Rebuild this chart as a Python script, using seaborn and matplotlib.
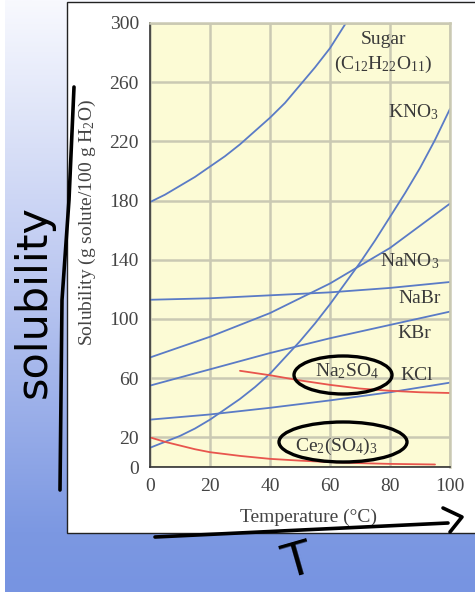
import numpy as np
import pandas as pd
import seaborn as sns
import matplotlib.pyplot as plt
from matplotlib.colors import LinearSegmentedColormap
from matplotlib.patches import Rectangle, Ellipse

# solubility curves (g solute / 100 g H2O)
t_sugar = [0, 5, 10, 15, 20, 25, 30, 35, 40, 45, 50, 55, 60, 65, 70]
sugar = [179, 184, 190, 196, 203, 210, 218, 227, 236, 246, 258, 270, 283, 299, 315]
t_five = [0, 5, 10, 15, 20, 25, 30, 35, 40, 45, 50,
          55, 60, 65, 70, 75, 80, 85, 90, 95, 100]
kno3 = [13, 17, 21, 26, 32, 39, 46, 54, 63, 74, 85,
        97, 110, 124, 138, 153, 169, 185, 202, 221, 242]
t_ten = [0, 10, 20, 30, 40, 50, 60, 70, 80, 90, 100]
nano3 = [74, 81, 88, 96, 104, 114, 124, 136, 148, 163, 178]
t_twenty = [0, 20, 40, 60, 80, 100]
nabr = [113, 114, 116, 118, 121, 125]
kbr = [55, 66, 77, 87, 96, 105]
kcl = [32, 35.5, 40, 45, 50.5, 57]
t_na2so4 = [30, 35, 40, 50, 60, 70, 80, 90, 100]
na2so4 = [65, 63.5, 62, 58.5, 55.5, 53, 51.5, 50.5, 50]
t_ce = [0, 5, 10, 15, 20, 30, 40, 50, 60, 70, 80, 95]
ce2so43 = [20, 17, 14.5, 12, 10, 7.5, 5.5, 4.3, 3.3, 2.6, 2.1, 1.7]

x_ticks = [0, 20, 40, 60, 80, 100]
y_ticks = [0, 20, 60, 100, 140, 180, 220, 260, 300]

blue = '#5a7bc6'
red = '#e8554d'

series = [
    ('Sugar', t_sugar, sugar, blue),
    ('KNO3', t_five, kno3, blue),
    ('NaNO3', t_ten, nano3, blue),
    ('NaBr', t_twenty, nabr, blue),
    ('KBr', t_twenty, kbr, blue),
    ('KCl', t_twenty, kcl, blue),
    ('Na2SO4', t_na2so4, na2so4, red),
    ('Ce2(SO4)3', t_ce, ce2so43, red),
]
frames = [pd.DataFrame({'T': t, 'S': s, 'solute': name}) for name, t, s, _ in series]
df = pd.concat(frames, ignore_index=True)
palette = {name: c for name, _, _, c in series}

sns.set_style('white')
plt.rcParams['font.family'] = ['Liberation Serif', 'DejaVu Serif']
plt.rcParams['mathtext.default'] = 'regular'

fig = plt.figure(figsize=(4.75, 5.92), dpi=100)
fig.patch.set_facecolor('white')

# background: blue gradient slide + white card
bg = fig.add_axes([0, 0, 1, 1], zorder=-5)
bg.set_xlim(0, 475)
bg.set_ylim(592, 0)
bg.axis('off')
cmap = LinearSegmentedColormap.from_list(
    'slide', [(0, '#f8f9fe'), (0.5, '#b8c5f0'), (0.9, '#7c98e2'), (1, '#7794e1')])
grad = np.linspace(0, 1, 256).reshape(-1, 1)
bg.imshow(grad, extent=[5, 475, 592, 0], aspect='auto', cmap=cmap)
bg.add_patch(Rectangle((67, 2), 430, 531, facecolor='white', edgecolor='#222222', lw=1))

ax = fig.add_axes([150 / 475, 1 - 467 / 592, 300 / 475, 444 / 592], zorder=1)
ax.set_facecolor('#fcfbd5')
sns.lineplot(data=df, x='T', y='S', hue='solute', palette=palette, units='solute',
             estimator=None, sort=False, lw=1.3, legend=False, ax=ax)

ax.set_xlim(0, 100)
ax.set_ylim(0, 300)
ax.set_xticks(x_ticks)
ax.set_yticks(y_ticks)
grid_c = '#cac9b3'
ax.grid(True, color=grid_c, lw=1.8, zorder=0)
ax.set_axisbelow(True)
for side in ['top', 'right']:
    ax.spines[side].set_color(grid_c)
    ax.spines[side].set_linewidth(1.8)
for side in ['left', 'bottom']:
    ax.spines[side].set_color('#333333')
    ax.spines[side].set_linewidth(1.2)
ax.tick_params(axis='x', direction='in', length=4, width=1.2, colors='#333333',
               labelsize=14, pad=8, labelcolor='#444444')
ax.tick_params(axis='y', direction='out', length=4, width=1.2, colors='#333333',
               labelsize=14, pad=4, labelcolor='#444444')

ax.set_xlabel('Temperature (°C)', fontsize=14, color='#444444')
ax.set_ylabel('Solubility (g solute/100 g H$_2$O)', fontsize=14, color='#444444')
ax.xaxis.set_label_coords(0.527, -0.095)
ax.yaxis.set_label_coords(-0.175, 0.55)

lab = dict(fontsize=14, color='#3a3a3a', ha='center', va='center')
ax.text(77.7, 289, 'Sugar', **lab)
ax.text(77.7, 272, '(C$_{12}$H$_{22}$O$_{11}$)', **lab)
ax.text(87.7, 240, 'KNO$_3$', **lab)
ax.text(86.5, 139, 'NaNO$_3$', **lab)
ax.text(90, 114, 'NaBr', **lab)
ax.text(88, 90, 'KBr', **lab)
ax.text(89, 62, 'KCl', **lab)
ax.text(65.5, 65, 'Na$_2$SO$_4$', **lab)
ax.text(62, 14, 'Ce$_2$(SO$_4$)$_3$', **lab)

# handwritten marks on top, in pixel coordinates
ov = fig.add_axes([0, 0, 1, 1], zorder=5)
ov.set_xlim(0, 475)
ov.set_ylim(592, 0)
ov.axis('off')
ov.patch.set_alpha(0)
ink = dict(color='black', lw=2.6, solid_capstyle='round')
ov.plot([74, 69, 62, 60], [87, 200, 300, 490], **ink)
ov.plot([155, 448], [537, 523], **ink)
ov.plot([443, 462, 450], [508, 517, 532], **ink)
ov.add_patch(Ellipse((343, 375), 98, 38, fill=False, ec='black', lw=2.4))
ov.add_patch(Ellipse((343, 442), 128, 40, fill=False, ec='black', lw=2.4))
ov.text(34, 302, 'solubility', rotation=90, fontsize=31, family='DejaVu Sans',
        ha='center', va='center', color='black')
ov.text(298, 563, 'T', rotation=16, fontsize=34, family='DejaVu Sans',
        ha='center', va='center', color='black')

fig.savefig('out.png', dpi=100)
